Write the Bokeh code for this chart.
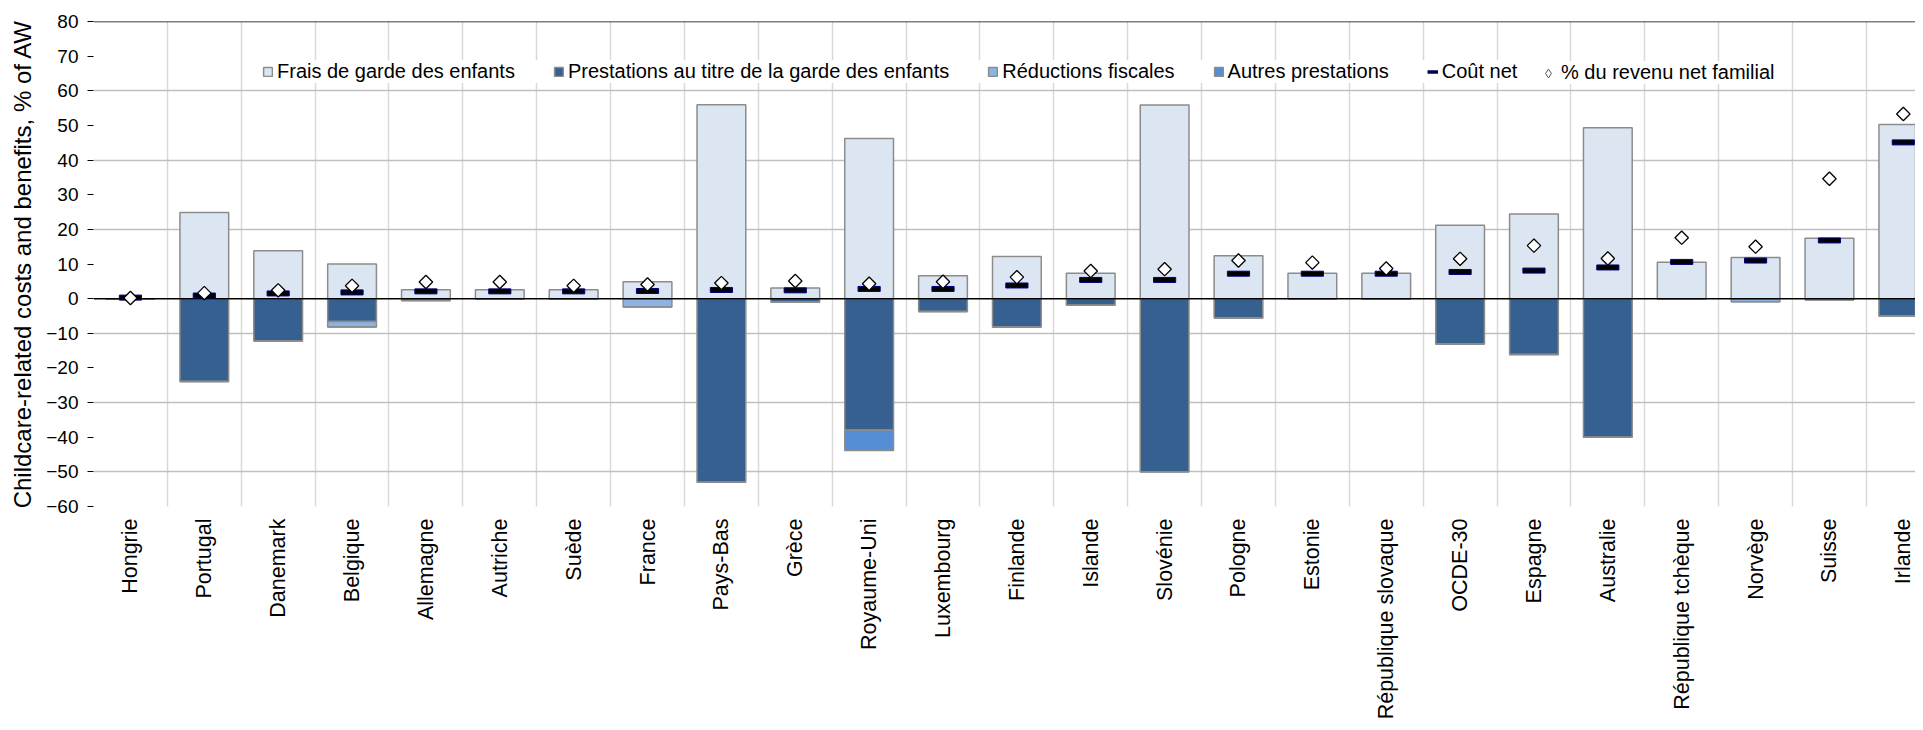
import numpy as np
from bokeh.plotting import figure
from bokeh.models import Range1d, FixedTicker, Span, Legend, LegendItem
from bokeh.embed import file_html
from bokeh.resources import INLINE

countries = ["Hongrie", "Portugal", "Danemark", "Belgique", "Allemagne", "Autriche", "Suède",
             "France", "Pays-Bas", "Grèce", "Royaume-Uni", "Luxembourg", "Finlande", "Islande",
             "Slovénie", "Pologne", "Estonie", "République slovaque", "OCDE-30", "Espagne",
             "Australie", "République tchèque", "Norvège", "Suisse", "Irlande"]

frais_garde = [0.0, 24.9, 13.8, 10.0, 2.6, 2.6, 2.6, 4.9, 56.0, 3.1, 46.2, 6.6, 12.2, 7.3,
               55.9, 12.4, 7.3, 7.3, 21.2, 24.4, 49.3, 10.5, 11.9, 17.4, 50.3]
prestations_garde = [0.0, -23.9, -12.2, -6.6, -0.5, 0.0, 0.0, 0.0, -53.0, -1.0, -38.0, -3.7,
                     -8.2, -1.9, -50.0, -5.6, 0.0, 0.0, -13.1, -16.1, -40.0, 0.0, 0.0, -0.3, -5.0]
reductions_fiscales = [0.0, 0.0, 0.0, -1.6, 0.0, 0.0, 0.0, -2.4, 0.0, 0.0, 0.0, 0.0,
                       0.0, 0.0, 0.0, 0.0, 0.0, 0.0, 0.0, 0.0, 0.0, 0.0, -0.9, 0.0, 0.0]
autres_prestations = [0.0, 0.0, 0.0, 0.0, 0.0, 0.0, 0.0, 0.0, 0.0, 0.0, -5.8, 0.0,
                      0.0, 0.0, 0.0, 0.0, 0.0, 0.0, 0.0, 0.0, 0.0, 0.0, 0.0, 0.0, 0.0]
cout_net = [0.3, 0.9, 1.5, 1.8, 2.1, 2.1, 2.1, 2.2, 2.5, 2.4, 2.8, 2.8, 3.8, 5.4, 5.4,
            7.2, 7.2, 7.2, 7.7, 8.1, 9.0, 10.6, 11.0, 16.8, 45.1]
pct_revenu = [0.2, 1.6, 2.4, 3.7, 4.8, 4.8, 3.7, 4.1, 4.5, 5.1, 4.3, 4.9, 6.2, 8.0, 8.5,
              11.0, 10.4, 8.7, 11.5, 15.3, 11.6, 17.6, 15.0, 34.6, 53.3]

FONT = "Liberation Sans"
n = len(countries)
x = np.arange(n)
pr_bot = np.array(prestations_garde)
rf_bot = pr_bot + np.array(reductions_fiscales)
au_bot = rf_bot + np.array(autres_prestations)

p = figure(width=1915, height=722,
           x_range=Range1d(-0.5, 24.165), y_range=Range1d(-60, 80),
           output_backend="svg", toolbar_location=None,
           min_border_left=93, min_border_right=0, min_border_top=21, min_border_bottom=213,
           outline_line_color=None, background_fill_color="white")

bw = 0.66
edge = "#8c8c8c"
r_frais = p.vbar(x=x, width=bw, bottom=0, top=frais_garde, fill_color="#dce6f2",
                 line_color=edge, line_width=1.5)
r_prest = p.vbar(x=x, width=bw, bottom=pr_bot, top=0, fill_color="#36608f",
                 line_color=edge, line_width=1.5)
r_red = p.vbar(x=x, width=bw, bottom=rf_bot, top=pr_bot, fill_color="#8db3e2",
               line_color=edge, line_width=1.5)
r_aut = p.vbar(x=x, width=bw, bottom=au_bot, top=rf_bot, fill_color="#558ed5",
               line_color=edge, line_width=1.5)

p.add_layout(Span(location=0, dimension="width", line_color="black", line_width=1.5))
p.add_layout(Span(location=80, dimension="width", line_color="black", line_width=1.5))

p.rect(x=x, y=cout_net, width=0.3, height=5, height_units="screen",
       fill_color="black", line_color="#000080", line_width=1, level="overlay")
p.scatter(x=x, y=pct_revenu, marker="square", angle=np.pi / 4, size=9.5,
          fill_color="white", line_color="black", line_width=1.3, level="overlay")

# legend-only proxies (a single NaN point, nothing drawn on the plot)
lg_net = p.line(x=[np.nan], y=[np.nan], line_color="#000050", line_width=3.5)
lg_pct = p.scatter(x=[np.nan], y=[np.nan], marker="diamond", fill_color="white",
                   line_color="#555555", line_width=1)

leg1 = Legend(items=[
    LegendItem(label="Frais de garde des enfants", renderers=[r_frais]),
    LegendItem(label="Prestations au titre de la garde des enfants", renderers=[r_prest]),
    LegendItem(label="Réductions fiscales", renderers=[r_red]),
    LegendItem(label="Autres prestations", renderers=[r_aut]),
    LegendItem(label="Coût net", renderers=[lg_net]),
], orientation="horizontal", location=(169, 423), padding=12, spacing=38,
    glyph_width=11, glyph_height=11, label_standoff=4,
    label_text_font=FONT, label_text_font_size="20px", label_text_color="black",
    border_line_color=None, background_fill_color="white", background_fill_alpha=1.0,
    margin=0)
leg2 = Legend(items=[
    LegendItem(label="% du revenu net familial", renderers=[lg_pct]),
], orientation="horizontal", location=(1444, 422), padding=12, spacing=0,
    glyph_width=22, glyph_height=22, label_standoff=2,
    label_text_font=FONT, label_text_font_size="20px", label_text_color="black",
    border_line_color=None, background_fill_color="white", background_fill_alpha=1.0,
    margin=0)
p.add_layout(leg1)
p.add_layout(leg2)

# axes
p.xaxis.ticker = FixedTicker(ticks=list(range(n)))
p.xaxis.major_label_overrides = {i: c for i, c in enumerate(countries)}
p.xaxis.major_label_orientation = np.pi / 2
p.xaxis.major_tick_in = 0
p.xaxis.major_tick_out = 0
p.xaxis.minor_tick_line_color = None
p.xaxis.axis_line_color = None
p.xaxis.major_label_standoff = 12
p.xaxis.major_label_text_font = FONT
p.xaxis.major_label_text_font_size = "21.5px"
p.xaxis.major_label_text_color = "black"

p.yaxis.ticker = FixedTicker(ticks=list(range(-60, 81, 10)))
p.yaxis.major_tick_in = 0
p.yaxis.major_tick_out = 6
p.yaxis.major_tick_line_color = "black"
p.yaxis.minor_tick_line_color = None
p.yaxis.axis_line_color = None
p.yaxis.major_label_standoff = 9
p.yaxis.major_label_text_font = FONT
p.yaxis.major_label_text_font_size = "19px"
p.yaxis.major_label_text_color = "black"
p.yaxis.axis_label = "Childcare-related costs and benefits, % of AW"
p.yaxis.axis_label_text_font = FONT
p.yaxis.axis_label_text_font_size = "24px"
p.yaxis.axis_label_text_font_style = "normal"
p.yaxis.axis_label_text_color = "black"
p.yaxis.axis_label_standoff = 7

p.xgrid.ticker = FixedTicker(ticks=[i + 0.5 for i in range(n - 1)])
p.xgrid.grid_line_color = "#d9d9d9"
p.xgrid.grid_line_width = 1.5
p.ygrid.ticker = FixedTicker(ticks=[-50, -30, -10, 20, 40, 60])
p.ygrid.grid_line_color = "#c0c0c0"
p.ygrid.grid_line_width = 1.5

open("out.html", "w").write(file_html(p, INLINE))
